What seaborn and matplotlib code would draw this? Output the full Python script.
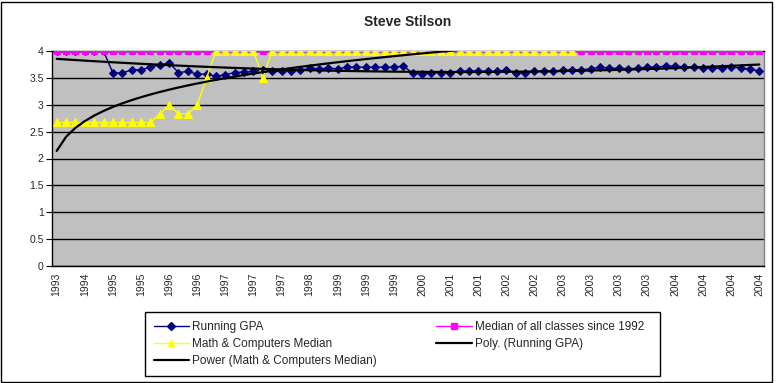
import numpy as np
import pandas as pd
import matplotlib
matplotlib.use("Agg")
import matplotlib.pyplot as plt
import seaborn as sns
from matplotlib.lines import Line2D
from matplotlib.patches import Rectangle
from matplotlib.ticker import FixedLocator

title = "Steve Stilson"

tick_labels = ["1993", "1994", "1995", "1995", "1996", "1996", "1997", "1997", "1997",
               "1998", "1999", "1999", "1999", "2000", "2001", "2001", "2002", "2002",
               "2003", "2003", "2003", "2003", "2004", "2004", "2004", "2004"]

running_gpa = [4.0, 4.0, 4.0, 4.0, 4.0, 4.0, 3.59, 3.59, 3.65, 3.65,
               3.70, 3.74, 3.78, 3.60, 3.62, 3.57, 3.57, 3.53, 3.56, 3.60,
               3.61, 3.62, 3.65, 3.62, 3.62, 3.63, 3.64, 3.68, 3.67, 3.68,
               3.67, 3.70, 3.70, 3.70, 3.70, 3.70, 3.70, 3.72, 3.59, 3.57,
               3.59, 3.60, 3.60, 3.62, 3.63, 3.63, 3.62, 3.62, 3.65, 3.59,
               3.60, 3.62, 3.62, 3.62, 3.65, 3.65, 3.65, 3.67, 3.70, 3.68,
               3.68, 3.67, 3.68, 3.70, 3.70, 3.72, 3.72, 3.70, 3.70, 3.68,
               3.68, 3.68, 3.71, 3.68, 3.66, 3.63]

median_all = [4.0, 4.0, 4.0, 4.0, 4.0, 4.0, 4.0, 4.0, 4.0, 4.0,
              4.0, 4.0, 4.0, 4.0, 4.0, 4.0, 4.0, 4.0, 4.0, 4.0,
              4.0, 4.0, 4.0, 4.0, 4.0, 4.0, 4.0, 4.0, 4.0, 4.0,
              4.0, 4.0, 4.0, 4.0, 4.0, 4.0, 4.0, 4.0, 4.0, 4.0,
              4.0, 4.0, 4.0, 4.0, 4.0, 4.0, 4.0, 4.0, 4.0, 4.0,
              4.0, 4.0, 4.0, 4.0, 4.0, 4.0, 4.0, 4.0, 4.0, 4.0,
              4.0, 4.0, 4.0, 4.0, 4.0, 4.0, 4.0, 4.0, 4.0, 4.0,
              4.0, 4.0, 4.0, 4.0, 4.0, 4.0]

math_median = [2.67, 2.67, 2.67, 2.67, 2.67, 2.67, 2.67, 2.67, 2.67, 2.67,
               2.67, 2.83, 3.0, 2.83, 2.83, 3.0, 3.5, 4.0, 4.0, 4.0,
               4.0, 4.0, 3.5, 4.0, 4.0, 4.0, 4.0, 4.0, 4.0, 4.0,
               4.0, 4.0, 4.0, 4.0, 4.0, 4.0, 4.0, 4.0, 4.0, 4.0,
               4.0, 4.0, 4.0, 4.0, 4.0, 4.0, 4.0, 4.0, 4.0, 4.0,
               4.0, 4.0, 4.0, 4.0, 4.0, 4.0]

series_names = ["Running GPA", "Median of all classes since 1992",
                "Math & Computers Median", "Poly. (Running GPA)",
                "Power (Math & Computers Median)"]

# ---- trendlines computed from the data (Excel-style) ----
n_gpa = len(running_gpa)
xg = np.arange(1, n_gpa + 1)
poly_coef = np.polyfit(xg, np.array(running_gpa), 2)
poly_trend = np.polyval(poly_coef, xg)

n_m = len(math_median)
xm = np.arange(1, n_m + 1)
b, lna = np.polyfit(np.log(xm), np.log(np.array(math_median)), 1)
power_trend = np.exp(lna) * xm ** b

df_gpa = pd.DataFrame({"idx": np.arange(n_gpa), "val": running_gpa})
df_med = pd.DataFrame({"idx": np.arange(len(median_all)), "val": median_all})
df_math = pd.DataFrame({"idx": np.arange(n_m), "val": math_median})
df_poly = pd.DataFrame({"idx": np.arange(n_gpa), "val": poly_trend})
df_pow = pd.DataFrame({"idx": np.arange(n_m), "val": power_trend})

sns.set_style("white")
plt.rcParams["font.family"] = ["Liberation Sans", "DejaVu Sans"]

W, H = 780, 383
fig = plt.figure(figsize=(W / 100, H / 100), dpi=100)
fig.patch.set_facecolor("white")
L, R, T, B = 52, 764, 51, 266
ax = fig.add_axes([L / W, 1 - B / H, (R - L) / W, (B - T) / H])
ax.set_facecolor("#C0C0C0")

navy = "#000080"
magenta = "#FF00FF"
yellow = "#FFFF00"

sns.lineplot(data=df_gpa, x="idx", y="val", ax=ax, color=navy, linewidth=1,
             marker="D", markersize=4.5, markeredgecolor=navy, markerfacecolor=navy,
             errorbar=None, legend=False, zorder=3)
sns.lineplot(data=df_med, x="idx", y="val", ax=ax, color=magenta, linewidth=1,
             marker="s", markersize=5, markeredgecolor=magenta, markerfacecolor=magenta,
             errorbar=None, legend=False, zorder=4)
sns.lineplot(data=df_math, x="idx", y="val", ax=ax, color=yellow, linewidth=1,
             marker="^", markersize=5.5, markeredgecolor=yellow, markerfacecolor=yellow,
             errorbar=None, legend=False, zorder=5)
sns.lineplot(data=df_poly, x="idx", y="val", ax=ax, color="black", linewidth=1.6,
             errorbar=None, legend=False, zorder=6)
sns.lineplot(data=df_pow, x="idx", y="val", ax=ax, color="black", linewidth=1.6,
             errorbar=None, legend=False, zorder=6)

ax.set_xlim(-0.5, n_gpa - 0.5)
ax.set_ylim(0, 4)
ax.set_xlabel("")
ax.set_ylabel("")

yt = np.arange(0, 4.01, 0.5)
ax.set_yticks(yt)
ax.set_yticklabels([("%g" % v) for v in yt])
ax.yaxis.grid(True, color="black", linewidth=1)
ax.xaxis.grid(False)
ax.set_axisbelow(True)

ax.xaxis.set_major_locator(FixedLocator(np.arange(0, n_gpa, 3)))
ax.set_xticklabels(tick_labels, rotation=90)
ax.xaxis.set_minor_locator(FixedLocator(np.arange(-0.5, n_gpa, 1)))
ax.tick_params(axis="x", which="major", length=0, pad=5, labelsize=7.5)
ax.tick_params(axis="x", which="minor", length=4, width=0.8, color="black", direction="out")
ax.tick_params(axis="y", which="major", length=4, width=0.8, color="black", direction="out",
               labelsize=7.5, pad=2, left=True)

for s in ["left", "bottom", "top"]:
    ax.spines[s].set_color("black")
    ax.spines[s].set_linewidth(1)
ax.spines["right"].set_color("#808080")
ax.spines["right"].set_linewidth(1)

fig.text((L + R) / 2 / W, 1 - 22 / H, title, ha="center", va="center",
         fontsize=10, fontweight="bold")

handles = [
    Line2D([], [], color=navy, lw=1, marker="D", markersize=4, markerfacecolor=navy, markeredgecolor=navy),
    Line2D([], [], color=yellow, lw=1, marker="^", markersize=5, markerfacecolor=yellow, markeredgecolor=yellow),
    Line2D([], [], color="black", lw=1.6),
    Line2D([], [], color=magenta, lw=1, marker="s", markersize=4, markerfacecolor=magenta, markeredgecolor=magenta),
    Line2D([], [], color="black", lw=1.6),
]
labels = [series_names[0], series_names[2], series_names[4], series_names[1], series_names[3]]
leg = fig.legend(handles, labels, loc="center", ncol=2, mode="expand",
                 bbox_to_anchor=(150 / W, 1 - 376 / H, 498 / W, 64 / H),
                 fontsize=8.5, frameon=False, handlelength=3.0,
                 handletextpad=0.3, borderpad=0.3, labelspacing=0.45,
                 borderaxespad=0)

fig.patches.append(Rectangle((145 / W, 1 - 376 / H), 515 / W, 64 / H, transform=fig.transFigure,
                             fill=True, facecolor="white", edgecolor="black", linewidth=1, zorder=0))

fig.patches.append(Rectangle((1 / W, 1 / H), 771 / W, 380 / H, transform=fig.transFigure,
                             fill=False, edgecolor="black", linewidth=1))

fig.savefig("out.png", dpi=100)
